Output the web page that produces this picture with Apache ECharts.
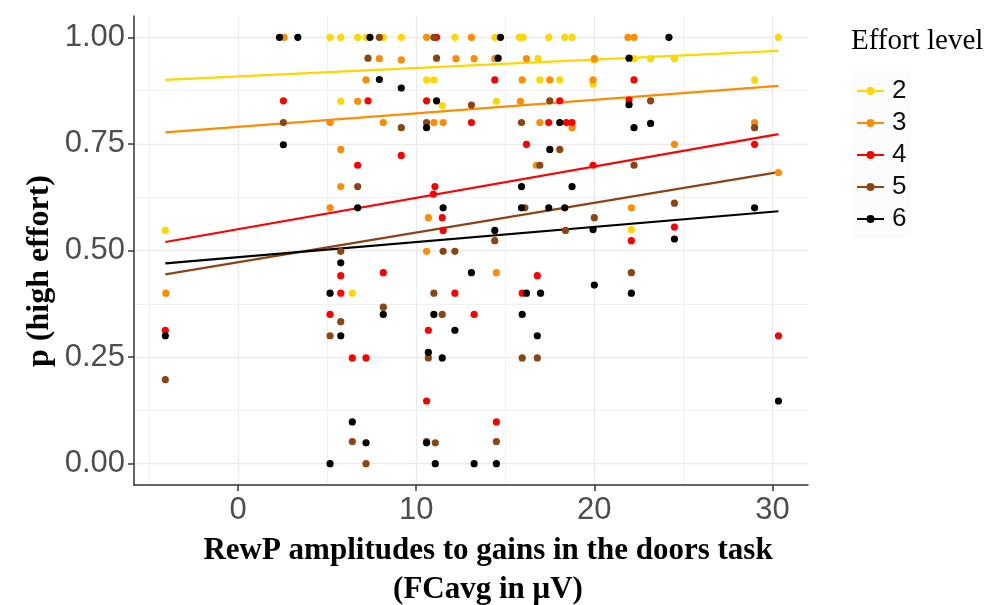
<!DOCTYPE html>
<html>
<head>
<meta charset="utf-8">
<script src="https://cdn.jsdelivr.net/npm/echarts@6/dist/echarts.min.js"></script>
<style>
html,body{margin:0;padding:0;background:#fff;}
#chart{width:986px;height:605px;}
</style>
</head>
<body>
<div id="chart"></div>
<script>
// ---- data ----
const levels = ['2', '3', '4', '5', '6'];
const colors = ['#FFD700', '#FF8C00', '#FF0000', '#8B4513', '#000000'];

const xTicks = [0, 10, 20, 30];
const xMinor = [-5, 5, 15, 25];
const yTicks = [0, 0.25, 0.5, 0.75, 1];
const yMinor = [0.125, 0.375, 0.625, 0.875];

// fitted regression lines (start / end values at the data x-range)
const fitX = [-4.09, 30.34];
const fitStart = [0.900, 0.777, 0.520, 0.444, 0.470];
const fitEnd = [0.968, 0.886, 0.773, 0.684, 0.592];

const pts2 = [
  [5.16,1.0],[5.76,1.0],[6.71,1.0],[7.18,1.0],[8.15,1.0],[9.16,1.0],[12.17,1.0],[14.41,1.0],
  [15.8,1.0],[16.0,1.0],[17.44,1.0],[18.34,1.0],[18.75,1.0],[30.34,1.0],
  [5.76,0.85],[11.46,0.84],[14.5,0.85],
  [10.58,0.90],[10.99,0.90],[16.94,0.90],[18.06,0.90],[19.93,0.89],[29.0,0.90],
  [16.84,0.95],[20.0,0.947],[22.23,0.95],[23.16,0.95],[24.5,0.95],
  [-4.09,0.547],[6.41,0.40],[22.08,0.549]
];
const pts3 = [
  [2.58,1.0],[10.58,1.0],[13.1,1.0],[21.89,1.0],[22.23,1.0],
  [7.93,0.95],[9.16,0.947],[12.23,0.95],[13.25,0.95],[14.41,0.95],[16.19,0.95],[20.0,0.95],
  [7.18,0.90],[15.95,0.90],[17.5,0.90],[19.93,0.90],
  [6.71,0.85],[15.85,0.85],
  [5.16,0.80],[8.15,0.80],[10.99,0.80],[11.51,0.80],[16.94,0.80],[18.75,0.788],[29.0,0.80],
  [5.76,0.737],[24.5,0.749],
  [16.75,0.70],[5.76,0.65],[5.16,0.60],[22.08,0.60],
  [10.68,0.577],[10.58,0.498],[14.5,0.448],[-4.06,0.40],[30.34,0.683]
];
const pts4 = [
  [11.14,1.0],
  [2.54,0.851],[7.29,0.851],[10.58,0.851],[18.06,0.851],[21.95,0.853],
  [14.41,0.90],[22.23,0.90],
  [13.1,0.80],[17.44,0.80],[18.43,0.80],[18.75,0.80],
  [16.19,0.749],[9.16,0.723],[29.0,0.749],
  [6.71,0.70],[19.93,0.70],
  [11.05,0.65],[10.96,0.632],
  [11.46,0.577],[11.51,0.547],[24.5,0.555],[22.08,0.523],
  [5.76,0.441],[8.15,0.448],[16.8,0.441],
  [5.76,0.40],[12.17,0.40],[15.95,0.40],
  [5.16,0.35],[13.25,0.35],
  [-4.09,0.313],[10.68,0.313],
  [6.41,0.248],[7.18,0.248],
  [10.58,0.147],[14.5,0.098],[30.34,0.30]
];
const pts5 = [
  [10.99,1.0],[7.93,1.0],
  [7.29,0.951],[11.14,0.951],
  [13.1,0.841],[17.5,0.851],[23.16,0.851],
  [2.54,0.80],[9.16,0.788],[10.58,0.80],[15.91,0.80],[29.0,0.788],
  [18.06,0.737],[16.94,0.70],[22.23,0.70],
  [6.71,0.65],[16.1,0.60],[24.5,0.611],
  [20.0,0.577],[18.38,0.547],[14.41,0.523],
  [5.76,0.498],[11.51,0.498],[12.17,0.498],
  [22.08,0.448],[10.99,0.40],
  [8.15,0.367],[11.46,0.35],
  [5.76,0.333],[5.16,0.30],
  [10.68,0.248],[15.95,0.248],[16.8,0.248],
  [-4.09,0.197],
  [6.41,0.052],[10.58,0.052],[11.07,0.049],[14.5,0.052],
  [7.18,0.0]
];
const pts6 = [
  [2.32,1.0],[3.35,1.0],[7.40,1.0],[14.73,1.0],[24.19,1.0],
  [14.6,0.951],[21.95,0.951],
  [7.93,0.901],[9.16,0.881],
  [11.14,0.851],[21.95,0.842],
  [2.54,0.748],[10.58,0.788],[18.06,0.80],[22.23,0.788],[23.16,0.798],
  [17.5,0.737],
  [15.91,0.65],[18.75,0.65],
  [6.71,0.60],[11.51,0.60],[15.91,0.60],[17.44,0.60],[18.34,0.60],[29.0,0.60],
  [14.41,0.547],[19.93,0.549],[24.5,0.527],
  [5.76,0.471],[13.1,0.448],[20.0,0.419],
  [5.16,0.40],[16.19,0.40],[16.98,0.40],[22.08,0.40],
  [8.15,0.35],[10.99,0.35],[15.95,0.35],
  [12.17,0.313],
  [-4.09,0.30],[5.76,0.30],[16.8,0.30],
  [10.68,0.261],[11.46,0.248],
  [30.34,0.147],[6.41,0.098],
  [7.18,0.049],[10.58,0.049],
  [5.16,0.0],[11.07,0.0],[13.25,0.0],[14.5,0.0]
];
const points = [pts2, pts3, pts4, pts5, pts6];

// ---- chart ----
const chart = echarts.init(document.getElementById('chart'), null, {renderer: 'canvas'});
const X_MIN = -5.85, X_MAX = 32.0, Y_MIN = -0.05, Y_MAX = 1.05;
const gridStyle = {show: true, lineStyle: {color: '#EBEBEB', width: 1.4}};
const minorStyle = {show: true, lineStyle: {color: '#F1F1F1', width: 1}};

const series = [];
levels.forEach((lv, i) => {
  series.push({
    name: lv, type: 'line', xAxisIndex: 0, yAxisIndex: 0,
    data: [[fitX[0], fitStart[i]], [fitX[1], fitEnd[i]]],
    symbol: 'circle', symbolSize: 7, showSymbol: false,
    lineStyle: {color: colors[i], width: 2.2},
    itemStyle: {color: colors[i]},
    z: 3, silent: true, animation: false
  });
});
levels.forEach((lv, i) => {
  series.push({
    name: lv, type: 'scatter', xAxisIndex: 0, yAxisIndex: 0,
    data: points[i], symbol: 'circle', symbolSize: 7.2,
    itemStyle: {color: colors[i], opacity: 1},
    z: 4, silent: true, animation: false
  });
});

const sans = 'Liberation Sans, Arial, sans-serif';
const serif = 'Liberation Serif, Times New Roman, serif';

chart.setOption({
  animation: false,
  backgroundColor: '#fff',
  grid: {left: 134, top: 16, width: 674, height: 469, containLabel: false},
  xAxis: [
    {
      type: 'value', min: X_MIN, max: X_MAX, position: 'bottom',
      axisLine: {show: true, onZero: false, lineStyle: {color: '#333', width: 1.5}},
      axisTick: {show: true, length: 6, lineStyle: {color: '#333', width: 1.5}, customValues: xTicks},
      axisLabel: {show: true, customValues: xTicks, margin: 10, fontSize: 31, color: '#4D4D4D', fontFamily: sans},
      splitLine: gridStyle, z: 1
    },
    {
      type: 'value', min: X_MIN, max: X_MAX, position: 'bottom',
      axisLine: {show: false}, axisLabel: {show: false},
      axisTick: {show: false, customValues: xMinor},
      splitLine: minorStyle, z: 0
    }
  ],
  yAxis: [
    {
      type: 'value', min: Y_MIN, max: Y_MAX, position: 'left',
      axisLine: {show: true, onZero: false, lineStyle: {color: '#333', width: 1.5}},
      axisTick: {show: true, length: 6, lineStyle: {color: '#333', width: 1.5}, customValues: yTicks},
      axisLabel: {show: true, customValues: yTicks, margin: 9, fontSize: 31, color: '#4D4D4D', fontFamily: sans,
        formatter: v => v.toFixed(2)},
      splitLine: gridStyle, z: 1
    },
    {
      type: 'value', min: Y_MIN, max: Y_MAX, position: 'left',
      axisLine: {show: false}, axisLabel: {show: false},
      axisTick: {show: false, customValues: yMinor},
      splitLine: minorStyle, z: 0
    }
  ],
  legend: {
    data: levels, orient: 'vertical', left: 851, top: 71,
    itemWidth: 27, itemHeight: 10, itemGap: 2,
    backgroundColor: '#FCFCFC',
    textStyle: {fontSize: 26, lineHeight: 30, color: '#111', fontFamily: sans, padding: [0, 0, 0, 3]},
    selectedMode: false
  },
  graphic: [
    {type: 'text', left: 851, top: 27, silent: true,
      style: {text: 'Effort level', font: '29px ' + serif, fill: '#000'}},
    {type: 'text', x: 488, y: 551, silent: true,
      style: {text: 'RewP amplitudes to gains in the doors task', font: 'bold 31px ' + serif,
        fill: '#000', align: 'center', verticalAlign: 'middle'}},
    {type: 'text', x: 488, y: 590, silent: true,
      style: {text: '(FCavg in μV)', font: 'bold 31px ' + serif,
        fill: '#000', align: 'center', verticalAlign: 'middle'}},
    {type: 'text', x: 40, y: 271, rotation: Math.PI / 2, silent: true,
      style: {text: 'p (high effort)', font: 'bold 32px ' + serif,
        fill: '#000', align: 'center', verticalAlign: 'middle'}}
  ],
  series: series
});
</script>
</body>
</html>
